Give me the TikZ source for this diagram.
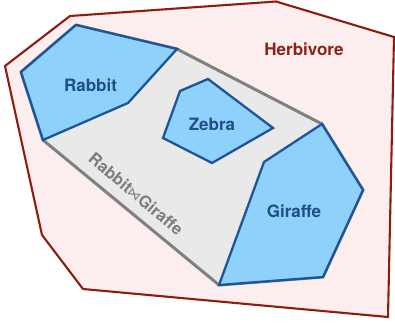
\documentclass[tikz,border=0pt]{standalone}
\usepackage{fontspec}
\setmainfont{TeX Gyre Heros}
\newfontfamily\symfont{DejaVu Sans}
\begin{document}
\begin{tikzpicture}[x=1pt,y=-1pt,
  herb/.style={draw=herbline,fill=herbfill,line width=2.1pt,line join=miter},
  joinreg/.style={draw=joinline,fill=joinfill,line width=3pt,line join=round},
  animal/.style={draw=animalline,fill=animalfill,line width=2.3pt,line join=miter},
  animaltext/.style={text=animaltxt,font=\bfseries\fontsize{17}{20}\selectfont},
]
\definecolor{herbline}{RGB}{140,30,15}
\definecolor{herbfill}{RGB}{252,238,238}
\definecolor{joinline}{RGB}{128,128,128}
\definecolor{joinfill}{RGB}{233,233,233}
\definecolor{animalline}{RGB}{30,85,150}
\definecolor{animalfill}{RGB}{142,210,252}
\definecolor{animaltxt}{RGB}{32,78,135}
\definecolor{herbtxt}{RGB}{140,35,20}
\definecolor{jointxt}{RGB}{125,125,125}
\useasboundingbox (0,0) rectangle (395,328);
% Herbivore
\draw[herb] (70,16) -- (276,1.5) -- (394,37) -- (388,317) -- (83,289) -- (42,235) -- (5,66) -- cycle;
% Join region
\draw[joinreg] (76,25) -- (177,49) -- (322,124) -- (363,190) -- (323,277) -- (219,285) -- (43,140) -- (21,72) -- cycle;
% Rabbit
\draw[animal] (76,25) -- (177,49) -- (128,103) -- (43,140) -- (21,72) -- cycle;
% Zebra
\draw[animal] (180,91) -- (208,79) -- (273,128) -- (212,163) -- (163,138) -- cycle;
% Giraffe
\draw[animal] (322,124) -- (363,190) -- (323,277) -- (219,285) -- (264,162) -- cycle;
\node[animaltext] (rabbit) at (90.5,85) {Rabbit};
\node[animaltext] (zebra) at (212,124.5) {Zebra};
\node[animaltext] (giraffe) at (294,211.5) {Giraffe};
\node[text=herbtxt,font=\bfseries\fontsize{17}{20}\selectfont] (herbivore) at (304,49.5) {Herbivore};
\node[text=jointxt,font=\bfseries\fontsize{16.5}{19}\selectfont,rotate=-40] (join) at (136,194) {Rabbit{\symfont\mdseries\fontsize{13}{15}\selectfont ⋈}Giraffe};
\end{tikzpicture}
\end{document}
